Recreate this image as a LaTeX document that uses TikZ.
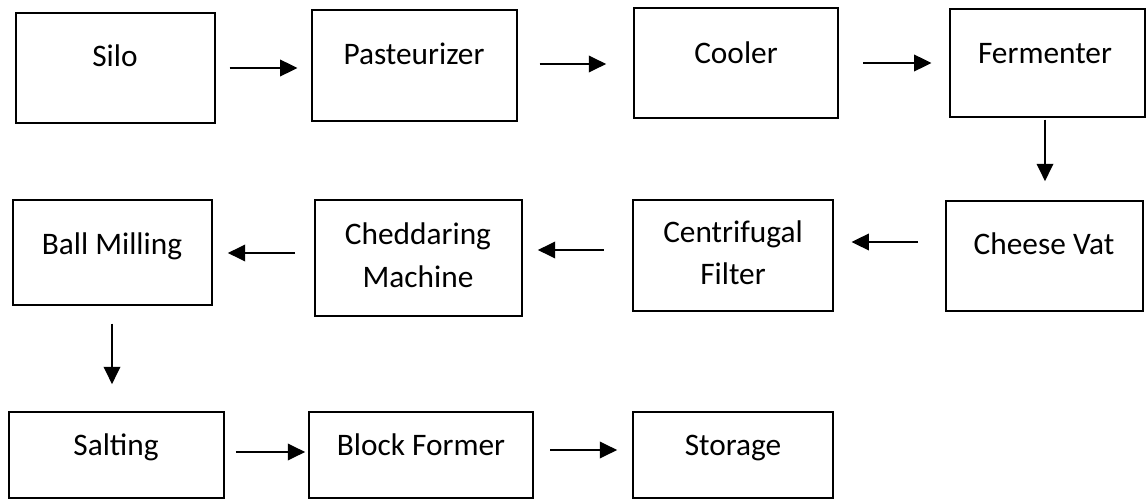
\documentclass[tikz,border=0pt]{standalone}
\usepackage{fontspec}
\setmainfont{Carlito}
\usetikzlibrary{arrows.meta,calc}

% stage box from its corner coordinates: name, x1, y1, x2, y2 (pixels, y down)
\newcommand\stagebox[5]{%
  \node[stage, minimum width={(#4-#2)*0.75pt}, minimum height={(#5-#3)*0.75pt}]
    (#1) at ({(#2+#4)/2},{(#3+#5)/2}) {};}

\begin{document}
\begin{tikzpicture}[x=0.75pt, y=-0.75pt,
  stage/.style={draw, line width=1.8pt, inner sep=0pt, fill=white},
  caption/.style={font=\fontsize{23.5}{32}\selectfont, align=center, inner sep=0pt, anchor=base},
  flow/.style={line width=1pt, -{Triangle[length=13pt, width=12.5pt]}}]
\useasboundingbox (0,0) rectangle (1147,499);

% first row
\stagebox{silo}{16}{13}{215}{123}
\stagebox{past}{312}{10}{517}{121}
\stagebox{cool}{634}{8}{838}{118}
\stagebox{ferm}{950}{9}{1145}{117}
% second row
\stagebox{vat}{946}{201}{1143}{311}
\stagebox{cent}{633}{200}{833}{311}
\stagebox{ched}{315}{200}{522}{316}
\stagebox{ball}{13}{200}{212}{305}
% third row
\stagebox{salt}{9}{412}{224}{498}
\stagebox{block}{309}{412}{533}{498}
\stagebox{store}{633}{412}{833}{498}

% captions (base anchor = baseline of the last line)
\node[caption] (tsilo) at (115,67) {Silo};
\node[caption] (tpast) at (414,65) {Pasteurizer};
\node[caption] (tcool) at (736,64) {Cooler};
\node[caption] (tferm) at (1045,64) {Fermenter};
\node[caption] (tvat) at (1044,255) {Cheese Vat};
\node[caption] (tcent) at (733,285) {Centrifugal\\Filter};
\node[caption] (tched) at (418,287) {Cheddaring\\Machine};
\node[caption] (tball) at (112,255) {Ball Milling};
\node[caption] (tsalt) at (116,455) {Salting};
\node[caption] (tblock) at (421,455) {Block Former};
\node[caption] (tstore) at (733,455) {Storage};

% vertical connector positions
\coordinate (dropA) at (1045,0);
\coordinate (dropB) at (112,0);

% connectors
\draw[flow] ([xshift=10pt]silo.east |- 0,68) -- ([xshift=-10pt]past.west |- 0,68);
\draw[flow] ([xshift=16pt]past.east |- 0,64) -- ([xshift=-20pt]cool.west |- 0,64);
\draw[flow] ([xshift=18pt]cool.east |- 0,63) -- ([xshift=-13pt]ferm.west |- 0,63);
\draw[flow] ([yshift=-1pt]dropA |- ferm.south) -- ([yshift=14pt]dropA |- vat.north);
\draw[flow] ([xshift=-20pt]vat.west |- 0,242) -- ([xshift=13pt]cent.east |- 0,242);
\draw[flow] ([xshift=-21pt]cent.west |- 0,250) -- ([xshift=11pt]ched.east |- 0,250);
\draw[flow] ([xshift=-14pt]ched.west |- 0,253) -- ([xshift=11pt]ball.east |- 0,253);
\draw[flow] ([yshift=-13pt]dropB |- ball.south) -- ([yshift=20pt]dropB |- salt.north);
\draw[flow] ([xshift=8pt]salt.east |- 0,452) -- ([xshift=-2pt]block.west |- 0,452);
\draw[flow] ([xshift=12pt]block.east |- 0,450) -- ([xshift=-11pt]store.west |- 0,450);
\end{tikzpicture}
\end{document}
